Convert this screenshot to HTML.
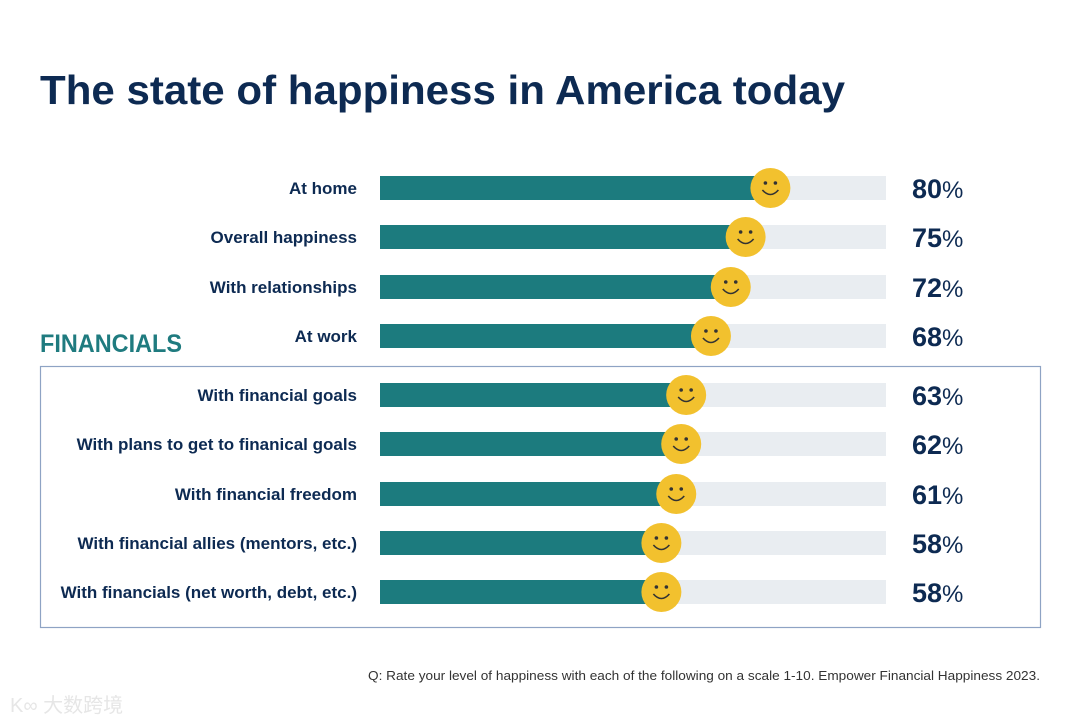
<!DOCTYPE html>
<html><head><meta charset="utf-8"><style>
body{margin:0;background:#fff;width:1080px;height:723px;overflow:hidden;font-family:"Liberation Sans",sans-serif}
</style></head><body>
<svg width="1080" height="723" id="svg">
<text x="40" y="104" font-size="41" font-weight="bold" fill="#0d2a52" textLength="805" lengthAdjust="spacingAndGlyphs">The state of happiness in America today</text>
<text x="40" y="352" font-size="25" font-weight="bold" fill="#1f7b7f" textLength="142" lengthAdjust="spacingAndGlyphs">FINANCIALS</text>
<rect x="40.5" y="366.5" width="1000" height="261" fill="none" stroke="#8ea3c4" stroke-width="1.2"/>
<text x="368" y="680" font-size="12.5" fill="#333" textLength="672" lengthAdjust="spacingAndGlyphs">Q: Rate your level of happiness with each of the following on a scale 1-10. Empower Financial Happiness 2023.</text>
<text x="10" y="712" font-size="20" fill="#e6e6e6" font-family="'Liberation Sans','Noto Sans CJK SC',sans-serif">K∞ 大数跨境</text>
<g id="rows"></g>
</svg>
<script>
const categories=["At home","Overall happiness","With relationships","At work","With financial goals","With plans to get to finanical goals","With financial freedom","With financial allies (mentors, etc.)","With financials (net worth, debt, etc.)"];
const values=[80,75,72,68,63,62,61,58,58];
const rowY=[188,237,287,336,395,444,494,543,592];
const ns="http://www.w3.org/2000/svg";
const g=document.getElementById('rows');
function xs(v){return 374+v*4.955;}
function mk(t,a){const e=document.createElementNS(ns,t);for(const k in a)e.setAttribute(k,a[k]);g.appendChild(e);return e;}
categories.forEach((c,i)=>{
 const y=rowY[i],v=values[i],cx=xs(v);
 let e=mk('text',{x:357,y:y+6,'font-size':17,'font-weight':'bold','text-anchor':'end',fill:'#0d2a52'});e.textContent=c;
 
 
 e=mk('rect',{x:380,y:y-12,width:506,height:24,fill:'#e9edf1'});
 
 
 e=mk('rect',{x:380,y:y-12,width:cx-380,height:24,fill:'#1c7b7e'});
 
 
 e=mk('circle',{cx:cx,cy:y,r:20,fill:'#f2c12e'});
 
 
 mk('circle',{cx:cx-5,cy:y-5,r:1.8,fill:'#333'});
 mk('circle',{cx:cx+5,cy:y-5,r:1.8,fill:'#333'});
 mk('path',{d:`M${cx-8} ${y+2} Q${cx} ${y+11} ${cx+8} ${y+2}`,stroke:'#333','stroke-width':1.6,fill:'none'});
 e=mk('text',{x:912,y:y+10,'font-size':27,fill:'#0d2a52'});
 e.innerHTML=`<tspan font-weight="bold">${v}</tspan><tspan font-size="24">%</tspan>`;
 
 
});
</script>
</body></html>
